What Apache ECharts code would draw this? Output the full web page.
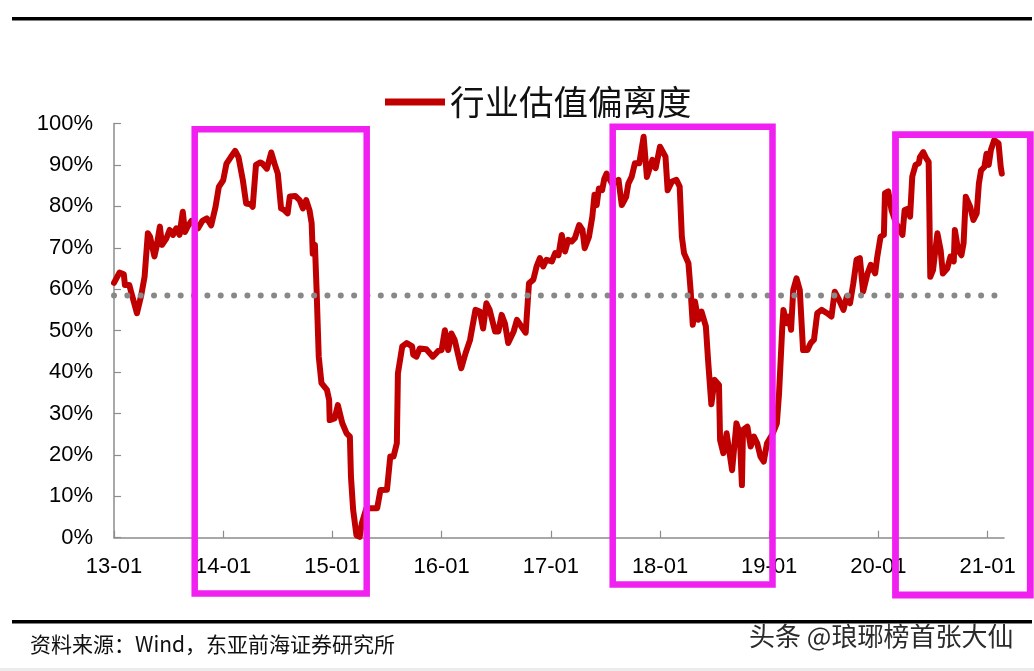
<!DOCTYPE html>
<html><head><meta charset="utf-8">
<script src="https://cdn.jsdelivr.net/npm/echarts@6/dist/echarts.min.js"></script>
<style>html,body{margin:0;padding:0;background:#fff}#c{width:1034px;height:671px}</style>
</head><body><div id="c"></div>
<script>
const seriesName = '行业估值偏离度';
// time as fractional year
const times = [
2013.00,2013.05,2013.09,2013.10,2013.14,2013.16,2013.21,2013.25,2013.28,2013.31,2013.33,2013.37,2013.39,2013.42,2013.44,2013.48,2013.51,2013.54,2013.57,2013.60,2013.63,2013.65,2013.68,2013.71,2013.77,2013.81,2013.85,2013.89,2013.93,2013.96,
2014.00,2014.03,2014.07,2014.11,2014.14,2014.18,2014.21,2014.25,2014.27,2014.30,2014.34,2014.36,2014.40,2014.44,2014.47,2014.50,2014.53,2014.56,2014.59,2014.61,2014.66,2014.70,2014.73,2014.76,2014.79,2014.81,2014.82,2014.84,2014.855,2014.865,2014.875,2014.90,2014.95,2014.97,2014.975,
2015.02,2015.05,2015.09,2015.13,2015.16,2015.17,2015.19,2015.22,2015.25,2015.27,2015.31,2015.35,2015.41,2015.44,2015.50,2015.53,2015.56,2015.59,2015.60,2015.64,2015.68,2015.73,2015.74,2015.77,2015.80,2015.86,2015.92,2015.97,
2016.00,2016.03,2016.06,2016.09,2016.12,2016.18,2016.22,2016.26,2016.31,2016.35,2016.38,2016.41,2016.44,2016.49,2016.52,2016.55,2016.58,2016.61,2016.66,2016.69,2016.73,2016.77,2016.80,2016.84,2016.87,2016.90,2016.93,2016.96,
2017.01,2017.04,2017.07,2017.10,2017.13,2017.16,2017.19,2017.22,2017.26,2017.29,2017.31,2017.35,2017.38,2017.40,2017.42,2017.44,2017.47,2017.49,2017.51,2017.56,2017.62,2017.65,2017.69,2017.71,2017.74,2017.77,2017.81,2017.85,2017.88,2017.93,2017.96,
2018.00,2018.05,2018.07,2018.11,2018.15,2018.18,2018.20,2018.22,2018.26,2018.28,2018.30,2018.32,2018.35,2018.38,2018.42,2018.44,2018.47,2018.50,2018.54,2018.55,2018.58,2018.61,2018.66,2018.70,2018.73,2018.75,2018.76,2018.80,2018.83,2018.86,2018.89,2018.92,2018.95,2018.98,
2019.03,2019.07,2019.09,2019.12,2019.13,2019.16,2019.18,2019.20,2019.22,2019.25,2019.28,2019.31,2019.35,2019.38,2019.41,2019.44,2019.48,2019.53,2019.57,2019.60,2019.64,2019.68,2019.71,2019.74,2019.77,2019.80,2019.83,2019.86,2019.90,2019.93,2019.97,2019.99,
2020.02,2020.05,2020.06,2020.09,2020.12,2020.16,2020.22,2020.24,2020.28,2020.29,2020.31,2020.34,2020.37,2020.38,2020.41,2020.44,2020.46,2020.475,2020.50,2020.54,2020.57,2020.59,2020.63,2020.66,2020.69,2020.70,2020.73,2020.76,2020.78,2020.80,2020.84,2020.87,2020.90,2020.92,2020.94,2020.97,2020.99,
2021.01,2021.03,2021.06,2021.10,2021.12,2021.13
];
const values = [
61.5,64.0,63.6,61.0,61.0,59.0,54.2,58.6,63.0,73.5,72.7,67.9,70.3,75.1,70.7,72.3,74.3,73.1,74.7,73.1,78.7,73.8,75.4,76.5,74.7,76.5,77.1,75.4,79.9,84.7,
86.3,90.3,91.9,93.4,91.9,86.3,80.7,80.5,79.9,90.0,90.6,90.3,89.1,93.0,90.3,87.9,79.5,79.1,78.3,82.4,82.5,81.5,79.5,81.5,79.1,75.9,68.6,70.7,60.0,51.7,43.7,37.3,35.7,33.3,28.4,
28.8,32.0,27.7,25.2,24.4,14.7,6.7,0.6,0.2,3.5,7.0,7.1,7.1,11.5,11.6,19.6,19.6,22.8,39.7,46.2,47.0,46.2,44.2,43.7,45.7,45.5,43.7,45.1,
45.3,50.1,45.3,49.3,47.7,40.9,44.6,47.7,55.0,54.6,50.5,56.6,55.0,49.8,49.8,53.8,51.7,47.0,49.8,52.6,51.0,49.5,61.4,62.3,65.5,67.5,65.5,67.1,
66.7,68.7,68.2,73.1,69.1,71.9,71.5,72.3,75.5,74.3,69.9,72.7,77.5,82.8,80.3,84.3,83.9,86.7,87.9,85.5,86.4,80.3,82.3,85.5,87.1,90.4,90.4,96.8,87.1,91.2,89.2,
94.4,92.0,83.9,86.0,86.4,84.8,72.7,68.7,66.3,59.8,51.4,57.0,52.6,54.6,51.0,42.9,32.2,38.1,36.9,23.6,20.4,25.2,16.3,27.6,25.2,12.7,26.0,26.8,22.0,24.4,22.8,19.6,18.4,22.8,
25.0,27.6,34.8,51.0,55.0,51.8,53.4,50.2,59.8,62.6,59.8,45.3,45.3,47.0,47.8,54.2,55.0,54.2,53.4,59.4,57.4,55.0,58.2,56.6,61.4,67.1,67.5,59.4,63.8,65.9,63.8,67.9,
72.7,73.1,83.2,83.6,79.1,76.0,73.1,79.1,79.5,77.5,87.2,90.0,90.4,91.9,93.1,91.5,90.7,63.0,64.6,73.5,69.4,63.8,65.0,67.9,66.7,74.3,69.4,68.2,71.1,82.3,79.9,76.7,78.3,85.5,88.7,89.5,92.7,
90.0,93.6,96.0,95.2,89.5,87.9
];
const meanValue = 58.5;
const meanRange = [2013.0, 2021.075];
const yearTicks = [2013,2014,2015,2016,2017,2018,2019,2020,2021];
const sourceText = '资料来源：Wind，东亚前海证券研究所';
const watermarkText = '头条 @琅琊榜首张大仙';

const lineData = times.map((t, i) => [t, values[i]]);
const meanData = meanRange.map(t => [t, meanValue]);

const chart = echarts.init(document.getElementById('c'), null, {renderer: 'canvas'});
const axisColor = '#8c8c8c';
const latin = "'Liberation Sans', Arial, sans-serif";
const cjk = "'Noto Sans CJK SC', sans-serif";
const magenta = '#F020F0';
chart.setOption({
  animation: false,
  backgroundColor: '#fff',
  grid: {left: 114, right: 30, top: 123.5, bottom: 133.3},
  legend: {
    data: [{name: seriesName, icon: 'rect'}],
    left: 385, top: 83, padding: 0,
    itemWidth: 60, itemHeight: 7,
    textStyle: {fontSize: 34.5, color: '#111', fontFamily: cjk, lineHeight: 38}
  },
  xAxis: {
    type: 'value', min: 2013, max: 2021.15, interval: 1,
    axisLine: {lineStyle: {color: axisColor, width: 1.5}},
    axisTick: {inside: true, length: 7, customValues: yearTicks, lineStyle: {color: axisColor, width: 1.2}},
    axisLabel: {customValues: yearTicks, margin: 18, fontSize: 22, color: '#000', fontFamily: latin,
      formatter: v => String(Math.round(v)).slice(2) + '-01'},
    splitLine: {show: false}
  },
  yAxis: {
    type: 'value', min: 0, max: 100, interval: 10,
    axisLine: {show: true, lineStyle: {color: axisColor, width: 1.5}},
    axisTick: {show: true, inside: true, length: 7, lineStyle: {color: axisColor, width: 1.2}},
    axisLabel: {margin: 21, fontSize: 22, color: '#000', fontFamily: latin, formatter: '{value}%'},
    splitLine: {show: false}
  },
  series: [
    {name: seriesName, type: 'line', data: lineData, showSymbol: false, symbol: 'none',
     color: '#C00000', lineStyle: {color: '#C00000', width: 6, cap: 'round', join: 'round'}, z: 2},
    {name: 'mean', type: 'line', data: meanData, showSymbol: false, symbol: 'none', silent: true,
     lineStyle: {color: '#888888', width: 6, type: [0.01, 13.33], cap: 'round'}, z: 3}
  ],
  graphic: [
    {type: 'rect', shape: {x: 12, y: 17, width: 1020, height: 3.6}, style: {fill: '#000'}, z: 10},
    {type: 'rect', shape: {x: 12, y: 620, width: 1020, height: 3.4}, style: {fill: '#000'}, z: 10},
    {type: 'rect', shape: {x: 0, y: 668, width: 1034, height: 3}, style: {fill: '#ececec'}, z: 10},
    {type: 'rect', shape: {x: 194.7, y: 129.3, width: 172, height: 464.2}, style: {fill: 'none', stroke: magenta, lineWidth: 6.5}, z: 20},
    {type: 'rect', shape: {x: 612.7, y: 126.7, width: 159.8, height: 457.8}, style: {fill: 'none', stroke: magenta, lineWidth: 6.5}, z: 20},
    {type: 'rect', shape: {x: 895.5, y: 134.7, width: 134.8, height: 460.3}, style: {fill: 'none', stroke: magenta, lineWidth: 6.8}, z: 20},
    {type: 'text', left: 30, top: 634, style: {text: sourceText, fontSize: 21, fill: '#111', fontFamily: cjk}, z: 10},
    {type: 'text', left: 749, top: 623, style: {text: watermarkText, fontSize: 26, fill: '#2b2b2b', fontFamily: cjk}, z: 10}
  ]
});
</script></body></html>
